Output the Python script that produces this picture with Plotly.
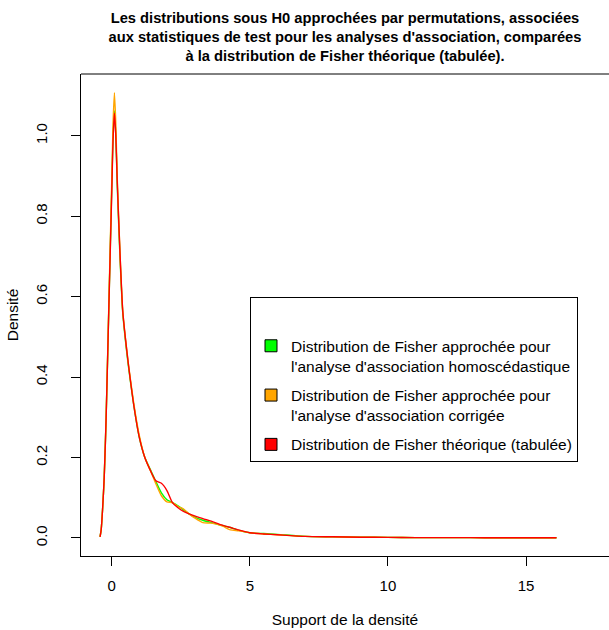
import plotly.graph_objects as go

# ---- data (kernel density estimates) ----
x_support = [-0.42, -0.38, -0.33, -0.27, -0.2, -0.1, 0.0, 0.05, 0.1, 0.15, 0.2, 0.3, 0.4, 0.5,
             0.6, 0.8, 1.0, 1.2, 1.4, 1.6, 1.8, 2.0, 2.2, 2.4, 2.6, 2.8, 3.0, 3.3, 3.6, 4.0,
             4.3, 4.6, 5.0, 5.5, 6.0, 7.0, 8.0, 9.0, 10.0, 11.0, 12.0, 13.0, 14.0, 15.0, 16.1]

dens_homosc = [0.003, 0.02, 0.07, 0.15, 0.3, 0.58, 0.86, 1.0, 1.062, 1.0, 0.88, 0.7, 0.56, 0.49,
               0.43, 0.33, 0.25, 0.2, 0.17, 0.14, 0.112, 0.095, 0.088, 0.08, 0.07, 0.06,
               0.052, 0.044, 0.038, 0.031, 0.026, 0.019, 0.013, 0.011, 0.009, 0.004, 0.003,
               0.002, 0.0015, 0.001, 0.001, 0.0008, 0.0006, 0.0005, 0.0004]

dens_corrigee = [0.003, 0.02, 0.07, 0.15, 0.3, 0.59, 0.88, 1.03, 1.107, 1.03, 0.9, 0.71, 0.565, 0.495,
                 0.435, 0.335, 0.255, 0.2, 0.168, 0.135, 0.105, 0.09, 0.088, 0.078, 0.072, 0.06,
                 0.05, 0.038, 0.037, 0.03, 0.02, 0.018, 0.013, 0.01, 0.008, 0.004, 0.003,
                 0.002, 0.0015, 0.001, 0.001, 0.0008, 0.0006, 0.0005, 0.0004]

dens_theorique = [0.003, 0.02, 0.07, 0.15, 0.3, 0.58, 0.85, 0.99, 1.056, 1.0, 0.89, 0.71, 0.565, 0.495,
                  0.435, 0.33, 0.25, 0.2, 0.168, 0.142, 0.136, 0.118, 0.088, 0.075, 0.066, 0.06,
                  0.055, 0.048, 0.042, 0.032, 0.026, 0.02, 0.013, 0.01, 0.008, 0.004, 0.003,
                  0.002, 0.0015, 0.001, 0.001, 0.0008, 0.0006, 0.0005, 0.0004]

series_names = ["Distribution de Fisher approchée pour<br>l'analyse d'association homoscédastique",
                "Distribution de Fisher approchée pour<br>l'analyse d'association corrigée",
                "Distribution de Fisher théorique (tabulée)"]
series_colors = ["#00FF00", "#FFA500", "#FF0000"]
series_values = [dens_homosc, dens_corrigee, dens_theorique]

x_ticks = [0, 5, 10, 15]
y_ticks = [0.0, 0.2, 0.4, 0.6, 0.8, 1.0]
y_ticklabels = ["0.0", "0.2", "0.4", "0.6", "0.8", "1.0"]

FONT = "Liberation Sans, Arial, Helvetica, sans-serif"

fig = go.Figure()
for vals, col in zip(series_values, series_colors):
    fig.add_trace(go.Scatter(x=x_support, y=vals, mode="lines",
                             line=dict(color=col, width=1.4, shape="spline", smoothing=0.6),
                             showlegend=False, hoverinfo="skip"))
for i, (name, col) in enumerate(zip(series_names, series_colors)):
    fig.add_trace(go.Scatter(x=[None], y=[None], mode="markers", name=name,
                             legendgroup=f"g{i}",
                             marker=dict(symbol="square", size=12, color=col,
                                         line=dict(color="black", width=1))))

fig.update_layout(
    width=609, height=630,
    margin=dict(l=81, r=0, t=74, b=74),
    plot_bgcolor="white", paper_bgcolor="white",
    font=dict(family=FONT, size=15, color="black"),
    title=dict(text="Les distributions sous H0 approchées par permutations, associées<br>"
                    "aux statistiques de test pour les analyses d'association, comparées<br>"
                    "à la distribution de Fisher théorique (tabulée).",
               x=345 / 609, xanchor="center", xref="container",
               y=1 - 23 / 630, yanchor="middle", yref="container",
               font=dict(family=FONT, size=14.7, color="black", weight="bold")),
    xaxis=dict(range=[-1.11, 18.0], tickvals=x_ticks, ticks="outside", ticklen=9,
               tickcolor="black", showline=True, linecolor="black", linewidth=1,
               showgrid=False, zeroline=False, ticklabelstandoff=7,
               tickfont=dict(family=FONT, size=15),
               title=dict(text="Support de la densité", standoff=21,
                          font=dict(family=FONT, size=15.5))),
    yaxis=dict(range=[-0.0448, 1.1535], tickvals=y_ticks, ticktext=y_ticklabels,
               tickangle=-90, ticks="outside", ticklen=9, tickcolor="black",
               showline=True, linecolor="black", linewidth=1, showgrid=False,
               zeroline=False, ticklabelstandoff=18,
               tickfont=dict(family=FONT, size=15),
               title=dict(text="Densité", standoff=10,
                          font=dict(family=FONT, size=15.5))),
    legend=dict(x=(250 - 81) / 528, y=(556 - 297) / 482, xanchor="left", yanchor="top",
                bordercolor="black", borderwidth=1, bgcolor="white",
                font=dict(family=FONT, size=15.5), valign="top",
                tracegroupgap=6, title=dict(text=" ", font=dict(size=24))),
    shapes=[dict(type="line", xref="paper", yref="paper", x0=0, x1=1, y0=1, y1=1,
                 line=dict(color="black", width=1))],
)

fig.write_html("out.html")
